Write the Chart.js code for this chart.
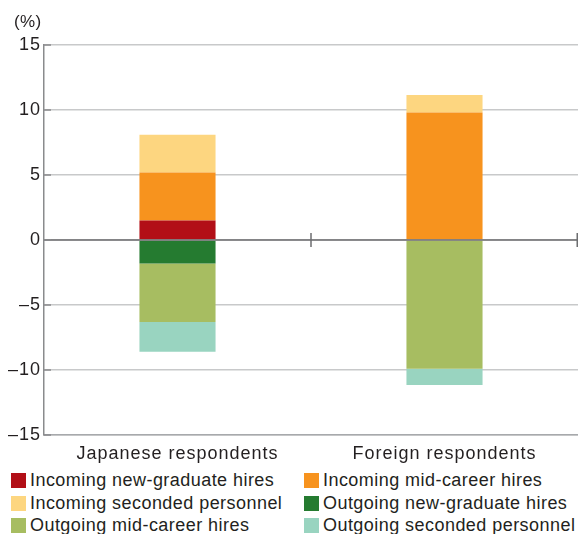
<!DOCTYPE html>
<html>
<head>
<meta charset="utf-8">
<script src="https://cdn.jsdelivr.net/npm/chart.js@4/dist/chart.umd.min.js"></script>
<style>
  body { margin: 0; background: #fff; font-family: "Liberation Sans", Arial, sans-serif; color: #231f20; }
  #wrap { position: relative; width: 578px; height: 534px; overflow: hidden; }
  #chart { position: absolute; left: 0; top: 0; }
  #unit { position: absolute; left: 14px; top: 12px; font-size: 17px; letter-spacing: 0.4px; color: #231f20; }
  #legend { position: absolute; left: 0; top: 470px; width: 578px; }
  .item { position: absolute; font-size: 18px; letter-spacing: 0.45px; line-height: 21px; white-space: nowrap; }
  .item span.box { display: inline-block; width: 15px; height: 15px; vertical-align: -2px; margin-right: 4px; }
</style>
</head>
<body>
<div id="wrap">
  <canvas id="chart" width="578" height="470"></canvas>
  <div id="unit">(%)</div>
  <div id="legend"></div>
</div>
<script>
const categories = ['Japanese respondents', 'Foreign respondents'];
const seriesNames = [
  'Incoming new-graduate hires',
  'Incoming mid-career hires',
  'Incoming seconded personnel',
  'Outgoing new-graduate hires',
  'Outgoing mid-career hires',
  'Outgoing seconded personnel'
];
const incomingNewGrad = [1.5, 0];
const incomingMidCareer = [3.7, 9.8];
const incomingSeconded = [2.9, 1.35];
const outgoingNewGrad = [-1.8, 0];
const outgoingMidCareer = [-4.5, -9.9];
const outgoingSeconded = [-2.3, -1.25];
const yTicks = [-15, -10, -5, 0, 5, 10, 15];

const colors = ['#b20f17', '#f7931e', '#fdd680', '#257b30', '#a7bd61', '#99d4c0'];
const values = [incomingNewGrad, incomingMidCareer, incomingSeconded, outgoingNewGrad, outgoingMidCareer, outgoingSeconded];

const datasets = seriesNames.map((name, i) => ({
  label: name,
  data: values[i],
  backgroundColor: colors[i],
  borderWidth: 0,
  barPercentage: 1,
  categoryPercentage: 0.285
}));

// slightly wider lettering for the axis labels
const spacing = {
  id: 'spacing',
  beforeDraw(chart) { chart.ctx.letterSpacing = '1px'; }
};

// zero line with category divider ticks, plus short inward ticks on the y axis
const axisMarks = {
  id: 'axisMarks',
  afterDatasetsDraw(chart) {
    const { ctx, chartArea, scales } = chart;
    const x = scales.x, y = scales.y;
    const y0 = y.getPixelForValue(0);
    ctx.save();
    ctx.strokeStyle = '#6d6e70';
    ctx.lineWidth = 1.5;
    ctx.beginPath();
    ctx.moveTo(chartArea.left, y0);
    ctx.lineTo(chartArea.right, y0);
    for (let i = 0; i < categories.length; i++) {
      const bx = i < categories.length - 1
        ? (x.getPixelForValue(i) + x.getPixelForValue(i + 1)) / 2
        : chartArea.right - 0.75;
      ctx.moveTo(bx, y0 - 7);
      ctx.lineTo(bx, y0 + 7);
    }
    ctx.stroke();
    ctx.strokeStyle = '#8a8b8d';
    ctx.beginPath();
    yTicks.forEach(v => {
      const py = y.getPixelForValue(v);
      ctx.moveTo(chartArea.left, py);
      ctx.lineTo(chartArea.left + 7, py);
    });
    ctx.stroke();
    ctx.restore();
  }
};

new Chart(document.getElementById('chart'), {
  type: 'bar',
  data: { labels: categories, datasets },
  plugins: [spacing, axisMarks],
  options: {
    responsive: false,
    animation: false,
    layout: { padding: { top: 45, left: 0, right: 0, bottom: 0 } },
    plugins: { legend: { display: false }, tooltip: { enabled: false } },
    scales: {
      x: {
        stacked: true,
        grid: { display: false },
        border: { display: true, color: '#a7a9ac', width: 1.5 },
        ticks: { color: '#231f20', font: { size: 18, family: '"Liberation Sans", Arial, sans-serif' }, padding: 0 },
        afterFit: s => { s.height = 35; }
      },
      y: {
        stacked: true,
        min: -15,
        max: 15,
        afterBuildTicks: s => { s.ticks = yTicks.map(v => ({ value: v })); },
        grid: { color: '#c8c9ca', lineWidth: 1.5, drawTicks: false },
        border: { display: true, color: '#8a8b8d', width: 1.5 },
        ticks: {
          color: '#231f20',
          padding: 3,
          font: { size: 18, family: '"Liberation Sans", Arial, sans-serif' },
          callback: v => (v < 0 ? '\u2013' + Math.abs(v) : String(v))
        },
        afterFit: s => { s.width = 44; }
      }
    }
  }
});

// two-column legend, read row by row
const legend = document.getElementById('legend');
seriesNames.forEach((name, i) => {
  const el = document.createElement('div');
  el.className = 'item';
  el.style.left = (i % 2 === 0 ? 11 : 304) + 'px';
  el.style.top = (Math.floor(i / 2) * 22.5) + 'px';
  el.innerHTML = '<span class="box" style="background:' + colors[i] + '"></span>' + name;
  legend.appendChild(el);
});
</script>
</body>
</html>
